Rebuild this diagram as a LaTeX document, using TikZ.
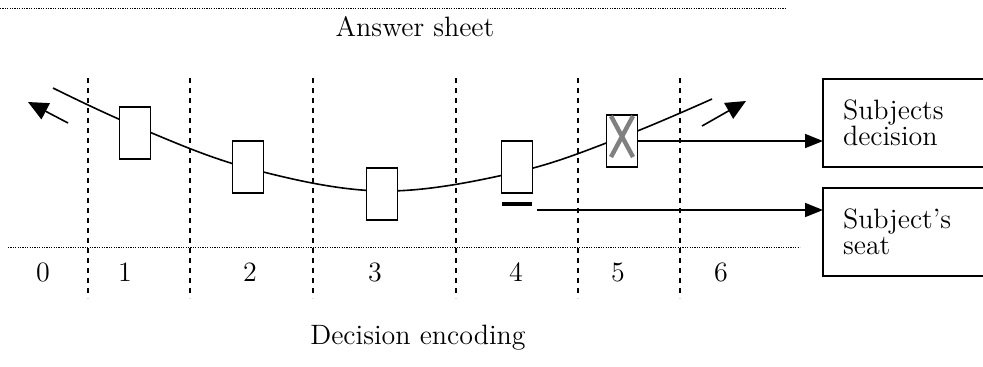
\documentclass[tikz,border=0pt]{standalone}
\usepackage{tikz}
\usetikzlibrary{arrows.meta,positioning}

\begin{document}
\begin{tikzpicture}[
    x=0.5pt, y=-0.5pt,
    font=\fontsize{14}{13}\selectfont,
    choice/.style={draw, thick, fill=white, minimum width=15.5pt, minimum height=26pt, inner sep=0pt, outer sep=0pt},
    outbox/.style={draw, thick, align=left, text width=62pt, inner xsep=10pt, minimum height=44pt, anchor=north west, outer sep=0pt},
    gridline/.style={thick, dash pattern=on 2.7pt off 2.3pt},
    sheetline/.style={dash pattern=on 0.6pt off 0.6pt, line width=0.5pt},
    flow/.style={-{Triangle[length=9pt, width=7pt]}, thick},
    drift/.style={-{Triangle[length=10pt, width=9pt]}, thick},
  ]
    \useasboundingbox (0,0) rectangle (983,366);

    % Sheet borders
    \coordinate (sheetTL) at (0,8);
    \coordinate (sheetTR) at (785,8);
    \coordinate (sheetBL) at (8,247);
    \coordinate (sheetBR) at (800,247);
    \draw[sheetline] (sheetTL) -- (sheetTR);
    \draw[sheetline] (sheetBL) -- (sheetBR);
    \node (sheet) at (415,27) {Answer sheet};
    \node (encoding) at (418,338) {Decision encoding};

    % Column borders
    \foreach \x/\n in {88/a, 190/b, 313/c, 456/d, 578/e, 680/f} {
      \coordinate (top\n) at (\x,78);
      \coordinate (bot\n) at (\x,298);
      \draw[gridline] (top\n) -- (bot\n);
    }

    % Column codes
    \foreach \x/\d in {43/0, 125/1, 250/2, 375/3, 516/4, 618/5, 721/6}
      \node (code\d) at (\x,272) {\d};

    % Row of seats
    \draw[thick] plot[smooth, tension=0.6] coordinates
      {(53,88) (135,126) (248,168) (382,191) (517,172) (622,137) (712,99)};
    \node[choice] (box1) at (135,133) {};
    \node[choice] (box2) at (248,167) {};
    \node[choice] (box3) at (382,194) {};
    \node[choice] (box4) at (517,167) {};
    \node[choice] (box5) at (622,141) {};
    \draw[gray, line width=2.2pt] (611,116) -- (633,157) (633,116) -- (611,157);
    \node[fill=black, minimum width=15pt, minimum height=2pt, inner sep=0pt] (bar) at (517,204) {};

    % Direction of the row
    \coordinate (leftS) at (68,123);
    \coordinate (leftE) at (28,102);
    \coordinate (rightS) at (702,126);
    \coordinate (rightE) at (746,101);
    \draw[drift] (leftS) -- (leftE);
    \draw[drift] (rightS) -- (rightE);

    % Outputs
    \node[outbox] (decision) at (823,79) {Subjects\\decision};
    \node[outbox] (seat) at (823,188) {Subject's\\seat};
    \coordinate (seatS) at (537,210);
    \draw[flow] (box5.east) -- (box5.east -| decision.west);
    \draw[flow] (seatS) -- (seatS -| seat.west);
  \end{tikzpicture}
\end{document}
